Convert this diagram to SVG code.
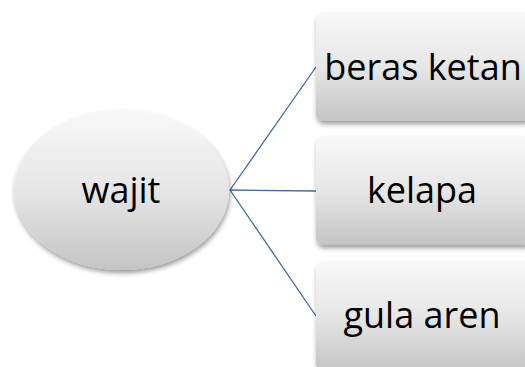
<svg xmlns="http://www.w3.org/2000/svg" width="525" height="367" viewBox="0 0 525 367">
<defs>
<linearGradient id="g" x1="0" y1="0" x2="0" y2="1">
<stop offset="0" stop-color="#f8f8f8"/>
<stop offset="0.5" stop-color="#e6e6e6"/>
<stop offset="1" stop-color="#c4c4c4"/>
</linearGradient>
<filter id="sh" x="-10%" y="-10%" width="130%" height="130%">
<feGaussianBlur in="SourceAlpha" stdDeviation="2.5"/>
<feOffset dx="1" dy="3" result="b"/>
<feComponentTransfer><feFuncA type="linear" slope="0.4"/></feComponentTransfer>
<feMerge><feMergeNode/><feMergeNode in="SourceGraphic"/></feMerge>
</filter>
</defs>
<style>
.n{fill:url(#g);filter:url(#sh)}
.t{font-family:"Open Sans","Noto Sans",sans-serif;font-size:36px;fill:#000;text-anchor:middle}
.c{stroke:#3e6a9e;stroke-width:1.3;fill:none}
</style>
<rect width="525" height="367" fill="#fff"/>
<g id="connectors">
<line class="c" x1="230" y1="190" x2="316" y2="67"/>
<line class="c" x1="230" y1="190" x2="316" y2="191"/>
<line class="c" x1="230" y1="190" x2="316" y2="316"/>
</g>
<g id="wajit">
<ellipse class="n" cx="121.5" cy="190" rx="107.5" ry="80"/>
<text class="t" x="121" y="203">wajit</text>
</g>
<g id="beras-ketan">
<rect class="n" x="316" y="13" width="214" height="108" rx="7"/>
<text class="t" x="423" y="80">beras ketan</text>
</g>
<g id="kelapa">
<rect class="n" x="316" y="137" width="214" height="108" rx="7"/>
<text class="t" x="422" y="203">kelapa</text>
</g>
<g id="gula-aren">
<rect class="n" x="316" y="262" width="214" height="108" rx="7"/>
<text class="t" x="422" y="328">gula aren</text>
</g>
</svg>
